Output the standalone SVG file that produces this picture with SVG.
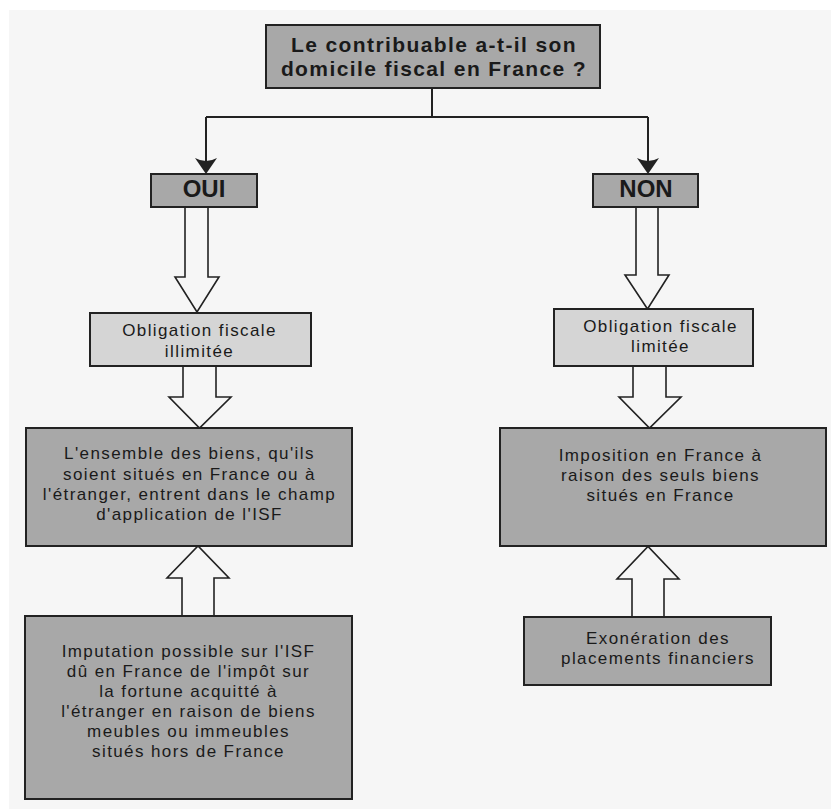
<svg xmlns="http://www.w3.org/2000/svg" width="831" height="809" viewBox="0 0 831 809">
<defs>
<style>
.bg{fill:#f6f6f6}
.dark{fill:#a8a8a8;stroke:#222;stroke-width:2}
.light{fill:#d5d5d5;stroke:#222;stroke-width:2}
.t{font-family:"Liberation Sans",Arial,sans-serif;font-size:17px;letter-spacing:1.4px;fill:#1a1a1a;text-anchor:middle}
.tb{font-family:"Liberation Sans",Arial,sans-serif;font-size:24px;font-weight:bold;fill:#1a1a1a;text-anchor:middle}
.tq{font-family:"Liberation Sans",Arial,sans-serif;font-size:21px;letter-spacing:1.4px;font-weight:bold;fill:#1a1a1a;text-anchor:middle}
.line{fill:none;stroke:#222;stroke-width:2}
.head{fill:#222;stroke:none}
.hollow{fill:#f6f6f6;stroke:#222;stroke-width:1.6;stroke-linejoin:miter}
</style>
</defs>
<rect class="bg" x="9" y="10" width="822" height="799"/>

<g id="connectors">
<path class="line" d="M432,88 V117"/>
<path class="line" d="M206,117 H648"/>
<path class="line" d="M206,117 V166"/>
<path class="head" d="M206,174 L195,158 Q206,164 217,158 Z"/>
<path class="line" d="M648,117 V166"/>
<path class="head" d="M648,174 L637,158 Q648,164 659,158 Z"/>
<path class="hollow" d="M185,207 V277 H175 L197,312 L219,277 H208 V207"/>
<path class="hollow" d="M183,366 V397 H169 L199.5,428 L231,397 H216 V366"/>
<path class="hollow" d="M182,616 V578 H167 L198,546 L229,578 H214 V616"/>
<path class="hollow" d="M636,207 V275 H625 L647.5,309 L669,275 H658 V207"/>
<path class="hollow" d="M633,366 V397 H619 L649.5,428 L681,397 H666 V366"/>
<path class="hollow" d="M632,617 V579 H617 L648,546.5 L679,579 H664 V617"/>
</g>

<g id="question">
<rect class="dark" x="266" y="25" width="334" height="63"/>
<text class="tq" x="434" y="51.5">Le contribuable a-t-il son</text>
<text class="tq" x="434" y="75.5">domicile fiscal en France ?</text>
</g>

<g id="oui">
<rect class="dark" x="151" y="174" width="106" height="33"/>
<text class="tb" x="204" y="197">OUI</text>
</g>

<g id="non">
<rect class="dark" x="593" y="174" width="105" height="33"/>
<text class="tb" x="646" y="197">NON</text>
</g>

<g id="illimitee">
<rect class="light" x="90" y="313" width="221" height="53"/>
<text class="t" x="199.5" y="336">Obligation fiscale</text>
<text class="t" x="199.5" y="357">illimitée</text>
</g>

<g id="limitee">
<rect class="light" x="554" y="309" width="199" height="57"/>
<text class="t" x="660.5" y="332">Obligation fiscale</text>
<text class="t" x="660.5" y="352">limitée</text>
</g>

<g id="ensemble">
<rect class="dark" x="26" y="428" width="326" height="118"/>
<text class="t" x="189.5" y="459">L'ensemble des biens, qu'ils</text>
<text class="t" x="189.5" y="479.5">soient situés en France ou à</text>
<text class="t" x="189.5" y="500">l'étranger, entrent dans le champ</text>
<text class="t" x="189.5" y="520">d'application de l'ISF</text>
</g>

<g id="imposition">
<rect class="dark" x="500" y="428" width="326" height="118"/>
<text class="t" x="660.5" y="461">Imposition en France à</text>
<text class="t" x="660.5" y="481">raison des seuls biens</text>
<text class="t" x="660.5" y="501">situés en France</text>
</g>

<g id="imputation">
<rect class="dark" x="25" y="616" width="327" height="183"/>
<text class="t" x="188.5" y="657">Imputation possible sur l'ISF</text>
<text class="t" x="188.5" y="677">dû en France de l'impôt sur</text>
<text class="t" x="188.5" y="697">la fortune acquitté à</text>
<text class="t" x="188.5" y="717">l'étranger en raison de biens</text>
<text class="t" x="188.5" y="737">meubles ou immeubles</text>
<text class="t" x="188.5" y="757">situés hors de France</text>
</g>

<g id="exoneration">
<rect class="dark" x="524" y="617" width="247" height="68"/>
<text class="t" x="658" y="643.5">Exonération des</text>
<text class="t" x="658" y="664">placements financiers</text>
</g>
</svg>
